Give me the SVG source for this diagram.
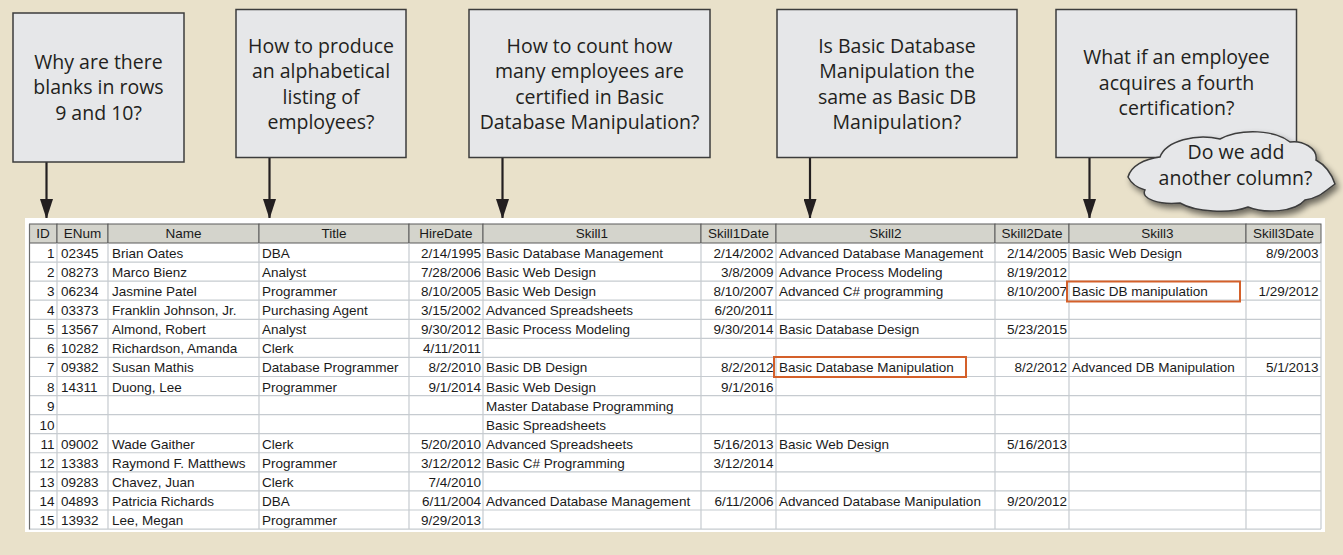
<svg xmlns="http://www.w3.org/2000/svg" width="1343" height="555" viewBox="0 0 1343 555">
<style>
.q{fill:#E6E7E9;stroke:#3C3C3C;stroke-width:1.5}
.qt{font-family:"Open Sans","DejaVu Sans",sans-serif;font-size:19.5px;fill:#231F20;text-anchor:middle}
.t{font-family:"Liberation Sans",Arial,sans-serif;font-size:13.5px;fill:#1A1A1A}
.r{text-anchor:end}
.h{text-anchor:middle}
.hc{fill:#D4D4CC;stroke:#5A5A5A;stroke-width:1}
.g{stroke:#C6CBD0;stroke-width:1.2;fill:none}
.hl{fill:none;stroke:#D4602A;stroke-width:2}
.ar{stroke:#231F20;stroke-width:2.2;fill:none}
</style>
<defs>
<marker id="ah" markerUnits="userSpaceOnUse" markerWidth="13" markerHeight="21" refX="6.5" refY="20" orient="0" viewBox="0 0 13 21">
<path d="M0,0 L13,0 L6.5,20 Z" fill="#231F20"/>
</marker>
<filter id="sh" x="-10%" y="-20%" width="130%" height="160%">
<feGaussianBlur in="SourceAlpha" stdDeviation="3"/>
<feOffset dx="3" dy="4" result="b"/>
<feComponentTransfer><feFuncA type="linear" slope="0.55"/></feComponentTransfer>
<feMerge><feMergeNode/><feMergeNode in="SourceGraphic"/></feMerge>
</filter>
</defs>
<rect x="0" y="0" width="1343" height="555" fill="#E9E1CA"/>

<g id="connectors">
<line class="ar" x1="46.5" y1="162" x2="46.5" y2="219" marker-end="url(#ah)"/>
<line class="ar" x1="269.5" y1="158" x2="269.5" y2="219" marker-end="url(#ah)"/>
<line class="ar" x1="502.5" y1="157" x2="502.5" y2="219" marker-end="url(#ah)"/>
<line class="ar" x1="810" y1="157" x2="810" y2="219" marker-end="url(#ah)"/>
<line class="ar" x1="1089.5" y1="157" x2="1089.5" y2="219" marker-end="url(#ah)"/>
</g>

<g id="q1">
<rect class="q" x="13" y="13" width="171" height="149"/>
<text class="qt" x="98.5" y="68.5">Why are there</text>
<text class="qt" x="98.5" y="94">blanks in rows</text>
<text class="qt" x="98.5" y="119.5">9 and 10?</text>
</g>
<g id="q2">
<rect class="q" x="236" y="9.5" width="170" height="148"/>
<text class="qt" x="321" y="52.5">How to produce</text>
<text class="qt" x="321" y="78">an alphabetical</text>
<text class="qt" x="321" y="103.5">listing of</text>
<text class="qt" x="321" y="129">employees?</text>
</g>
<g id="q3">
<rect class="q" x="469" y="9.5" width="241" height="148"/>
<text class="qt" x="589.5" y="52.5">How to count how</text>
<text class="qt" x="589.5" y="78">many employees are</text>
<text class="qt" x="589.5" y="103.5">certified in Basic</text>
<text class="qt" x="589.5" y="129">Database Manipulation?</text>
</g>
<g id="q4">
<rect class="q" x="777" y="9.5" width="240" height="148"/>
<text class="qt" x="897" y="52.5">Is Basic Database</text>
<text class="qt" x="897" y="78">Manipulation the</text>
<text class="qt" x="897" y="103.5">same as Basic DB</text>
<text class="qt" x="897" y="129">Manipulation?</text>
</g>
<g id="q5">
<rect class="q" x="1056" y="9.5" width="240.5" height="148"/>
<text class="qt" x="1176.5" y="64">What if an employee</text>
<text class="qt" x="1176.5" y="89.5">acquires a fourth</text>
<text class="qt" x="1176.5" y="115">certification?</text>
</g>
<g id="cloud">
<path filter="url(#sh)" fill="#E6E7E9" stroke="#3C3C3C" stroke-width="1.5" d="M1128,177 C1131,166 1144,159 1160,157 C1166,141 1196,133 1220,139 C1241,128 1276,130 1290,142 C1302,140 1318,148 1316,160 C1327,166 1332,175 1335,184 C1326,190 1320,198 1305,200 C1295,212 1265,214 1248,207 C1230,214 1195,212 1180,203 C1160,205 1140,199 1145,190 C1138,188 1131,183 1128,177 Z"/>
<text class="qt" x="1236" y="159">Do we add</text>
<text class="qt" x="1235.5" y="185">another column?</text>
</g>

<g id="table">
<rect x="25" y="218" width="1300" height="314" fill="#FFFFFF"/>
<g id="header">
<rect class="hc" x="29.5" y="224" width="27.5" height="19"/>
<rect class="hc" x="57" y="224" width="51" height="19"/>
<rect class="hc" x="108" y="224" width="151" height="19"/>
<rect class="hc" x="259" y="224" width="150" height="19"/>
<rect class="hc" x="409" y="224" width="74" height="19"/>
<rect class="hc" x="483" y="224" width="218" height="19"/>
<rect class="hc" x="701" y="224" width="75" height="19"/>
<rect class="hc" x="776" y="224" width="219" height="19"/>
<rect class="hc" x="995" y="224" width="74" height="19"/>
<rect class="hc" x="1069" y="224" width="177" height="19"/>
<rect class="hc" x="1246" y="224" width="75" height="19"/>
<text class="t h" x="43" y="238">ID</text>
<text class="t h" x="82.5" y="238">ENum</text>
<text class="t h" x="183.5" y="238">Name</text>
<text class="t h" x="334" y="238">Title</text>
<text class="t h" x="446" y="238">HireDate</text>
<text class="t h" x="592" y="238">Skill1</text>
<text class="t h" x="738.5" y="238">Skill1Date</text>
<text class="t h" x="885.5" y="238">Skill2</text>
<text class="t h" x="1032" y="238">Skill2Date</text>
<text class="t h" x="1157.5" y="238">Skill3</text>
<text class="t h" x="1283.5" y="238">Skill3Date</text>
</g>
<g id="grid">
<path class="g" d="M29.5,262.07H1321 M29.5,281.14H1321 M29.5,300.21H1321 M29.5,319.28H1321 M29.5,338.35H1321 M29.5,357.42H1321 M29.5,376.49H1321 M29.5,395.56H1321 M29.5,414.63H1321 M29.5,433.7H1321 M29.5,452.77H1321 M29.5,471.84H1321 M29.5,490.91H1321 M29.5,509.98H1321 M29.5,529.05H1321"/>
<path class="g" d="M57,243V529 M108,243V529 M259,243V529 M409,243V529 M483,243V529 M701,243V529 M776,243V529 M995,243V529 M1069,243V529 M1246,243V529 M1321,243V529"/>
<path d="M29.5,224V529.5" stroke="#6E6E6E" stroke-width="1.2"/>
</g>
<g id="rows">
<text class="t r" x="54.5" y="258">1</text><text class="t" x="61" y="258">02345</text><text class="t" x="112" y="258">Brian Oates</text><text class="t" x="262" y="258">DBA</text><text class="t r" x="481" y="258">2/14/1995</text><text class="t" x="486" y="258">Basic Database Management</text><text class="t r" x="773.5" y="258">2/14/2002</text><text class="t" x="779" y="258">Advanced Database Management</text><text class="t r" x="1067" y="258">2/14/2005</text><text class="t" x="1072" y="258">Basic Web Design</text><text class="t r" x="1318.5" y="258">8/9/2003</text>

<text class="t r" x="54.5" y="277.1">2</text><text class="t" x="61" y="277.1">08273</text><text class="t" x="112" y="277.1">Marco Bienz</text><text class="t" x="262" y="277.1">Analyst</text><text class="t r" x="481" y="277.1">7/28/2006</text><text class="t" x="486" y="277.1">Basic Web Design</text><text class="t r" x="773.5" y="277.1">3/8/2009</text><text class="t" x="779" y="277.1">Advance Process Modeling</text><text class="t r" x="1067" y="277.1">8/19/2012</text>

<text class="t r" x="54.5" y="296.1">3</text><text class="t" x="61" y="296.1">06234</text><text class="t" x="112" y="296.1">Jasmine Patel</text><text class="t" x="262" y="296.1">Programmer</text><text class="t r" x="481" y="296.1">8/10/2005</text><text class="t" x="486" y="296.1">Basic Web Design</text><text class="t r" x="773.5" y="296.1">8/10/2007</text><text class="t" x="779" y="296.1">Advanced C# programming</text><text class="t r" x="1067" y="296.1">8/10/2007</text><text class="t" x="1072" y="296.1">Basic DB manipulation</text><text class="t r" x="1318.5" y="296.1">1/29/2012</text>

<text class="t r" x="54.5" y="315.2">4</text><text class="t" x="61" y="315.2">03373</text><text class="t" x="112" y="315.2">Franklin Johnson, Jr.</text><text class="t" x="262" y="315.2">Purchasing Agent</text><text class="t r" x="481" y="315.2">3/15/2002</text><text class="t" x="486" y="315.2">Advanced Spreadsheets</text><text class="t r" x="773.5" y="315.2">6/20/2011</text>

<text class="t r" x="54.5" y="334.3">5</text><text class="t" x="61" y="334.3">13567</text><text class="t" x="112" y="334.3">Almond, Robert</text><text class="t" x="262" y="334.3">Analyst</text><text class="t r" x="481" y="334.3">9/30/2012</text><text class="t" x="486" y="334.3">Basic Process Modeling</text><text class="t r" x="773.5" y="334.3">9/30/2014</text><text class="t" x="779" y="334.3">Basic Database Design</text><text class="t r" x="1067" y="334.3">5/23/2015</text>

<text class="t r" x="54.5" y="353.4">6</text><text class="t" x="61" y="353.4">10282</text><text class="t" x="112" y="353.4">Richardson, Amanda</text><text class="t" x="262" y="353.4">Clerk</text><text class="t r" x="481" y="353.4">4/11/2011</text>

<text class="t r" x="54.5" y="372.4">7</text><text class="t" x="61" y="372.4">09382</text><text class="t" x="112" y="372.4">Susan Mathis</text><text class="t" x="262" y="372.4">Database Programmer</text><text class="t r" x="481" y="372.4">8/2/2010</text><text class="t" x="486" y="372.4">Basic DB Design</text><text class="t r" x="773.5" y="372.4">8/2/2012</text><text class="t" x="779" y="372.4">Basic Database Manipulation</text><text class="t r" x="1067" y="372.4">8/2/2012</text><text class="t" x="1072" y="372.4">Advanced DB Manipulation</text><text class="t r" x="1318.5" y="372.4">5/1/2013</text>

<text class="t r" x="54.5" y="391.5">8</text><text class="t" x="61" y="391.5">14311</text><text class="t" x="112" y="391.5">Duong, Lee</text><text class="t" x="262" y="391.5">Programmer</text><text class="t r" x="481" y="391.5">9/1/2014</text><text class="t" x="486" y="391.5">Basic Web Design</text><text class="t r" x="773.5" y="391.5">9/1/2016</text>

<text class="t r" x="54.5" y="410.6">9</text><text class="t" x="486" y="410.6">Master Database Programming</text>

<text class="t r" x="54.5" y="429.6">10</text><text class="t" x="486" y="429.6">Basic Spreadsheets</text>

<text class="t r" x="54.5" y="448.7">11</text><text class="t" x="61" y="448.7">09002</text><text class="t" x="112" y="448.7">Wade Gaither</text><text class="t" x="262" y="448.7">Clerk</text><text class="t r" x="481" y="448.7">5/20/2010</text><text class="t" x="486" y="448.7">Advanced Spreadsheets</text><text class="t r" x="773.5" y="448.7">5/16/2013</text><text class="t" x="779" y="448.7">Basic Web Design</text><text class="t r" x="1067" y="448.7">5/16/2013</text>

<text class="t r" x="54.5" y="467.8">12</text><text class="t" x="61" y="467.8">13383</text><text class="t" x="112" y="467.8">Raymond F. Matthews</text><text class="t" x="262" y="467.8">Programmer</text><text class="t r" x="481" y="467.8">3/12/2012</text><text class="t" x="486" y="467.8">Basic C# Programming</text><text class="t r" x="773.5" y="467.8">3/12/2014</text>

<text class="t r" x="54.5" y="486.8">13</text><text class="t" x="61" y="486.8">09283</text><text class="t" x="112" y="486.8">Chavez, Juan</text><text class="t" x="262" y="486.8">Clerk</text><text class="t r" x="481" y="486.8">7/4/2010</text>

<text class="t r" x="54.5" y="505.9">14</text><text class="t" x="61" y="505.9">04893</text><text class="t" x="112" y="505.9">Patricia Richards</text><text class="t" x="262" y="505.9">DBA</text><text class="t r" x="481" y="505.9">6/11/2004</text><text class="t" x="486" y="505.9">Advanced Database Management</text><text class="t r" x="773.5" y="505.9">6/11/2006</text><text class="t" x="779" y="505.9">Advanced Database Manipulation</text><text class="t r" x="1067" y="505.9">9/20/2012</text>

<text class="t r" x="54.5" y="525">15</text><text class="t" x="61" y="525">13932</text><text class="t" x="112" y="525">Lee, Megan</text><text class="t" x="262" y="525">Programmer</text><text class="t r" x="481" y="525">9/29/2013</text>
</g>
<g id="highlights">
<rect class="hl" x="774" y="357" width="192" height="20"/>
<rect class="hl" x="1067" y="281.5" width="173" height="20"/>
</g>
</g>
</svg>
